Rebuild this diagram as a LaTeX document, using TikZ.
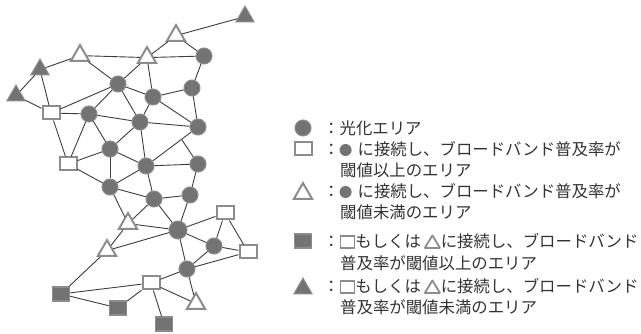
\documentclass[tikz,border=0pt]{standalone}
\usepackage{fontspec}
\setmainfont{Noto Sans CJK JP}
\usetikzlibrary{shapes.geometric}
\definecolor{nodegray}{HTML}{737373}
\definecolor{rimgray}{HTML}{8C8C8C}
\definecolor{edgegray}{HTML}{3C3C3C}
\definecolor{txtgray}{HTML}{333333}
\tikzset{
 circ/.style={circle, fill=nodegray, draw=rimgray, line width=1pt, minimum size=16pt, inner sep=0pt},
 bigcirc/.style={circ, minimum size=18pt},
 hsq/.style={rectangle, fill=white, draw=rimgray, line width=2pt, minimum width=17pt, minimum height=13pt, inner sep=0pt},
 fsq/.style={rectangle, fill=nodegray, draw=rimgray, line width=1.5pt, minimum width=17pt, minimum height=14pt, inner sep=0pt},
 htri/.style={regular polygon, regular polygon sides=3, fill=white, draw=rimgray, line width=2pt, minimum size=21pt, inner sep=0pt, yshift=-2.6pt},
 ftri/.style={regular polygon, regular polygon sides=3, fill=nodegray, draw=rimgray, line width=1pt, minimum size=21pt, inner sep=0pt, yshift=-2.6pt},
 link/.style={draw=edgegray, line width=0.9pt},
 legtext/.style={anchor=west, inner sep=0pt, text=txtgray, font=\fontsize{16.4}{19}\selectfont},
}
\newcommand{\legdot}{\tikz[baseline=-0.6ex]\fill[nodegray] (0pt,0pt) circle (6pt);}
\newcommand{\legsq}{\tikz[baseline=-0.6ex]\draw[rimgray, line width=1.8pt] (-7pt,-6pt) rectangle (7pt,6pt);}
\newcommand{\legtri}{\tikz[baseline=-0.6ex]\draw[rimgray, line width=1.8pt, line join=round] (-7.5pt,-6pt) -- (7.5pt,-6pt) -- (0pt,6.5pt) -- cycle;}
\begin{document}
\begin{tikzpicture}[x=1pt,y=-1pt]
\useasboundingbox (0,0) rectangle (641,334);
% nodes
\node[ftri] (T1) at (245,14) {};
\node[htri] (t1) at (176,33) {};
\node[htri] (t2) at (80,53) {};
\node[htri] (t3) at (147,55) {};
\node[circ] (C1) at (204,56) {};
\node[ftri] (FT2) at (40,67) {};
\node[ftri] (FT3) at (16,93) {};
\node[circ] (C2) at (118,84) {};
\node[circ] (C3) at (192,88) {};
\node[circ] (C4) at (153,97) {};
\node[hsq] (S1) at (51,113) {};
\node[circ] (C5) at (89,114) {};
\node[circ] (C6) at (140,122) {};
\node[circ] (C7) at (198,127) {};
\node[circ] (C8) at (110,149) {};
\node[hsq] (S2) at (68,164) {};
\node[circ] (C9) at (146,166) {};
\node[circ] (C10) at (198,164) {};
\coordinate (J) at (182,140);
\node[circ] (C11) at (110,187) {};
\node[circ] (C12) at (154,199) {};
\node[circ] (C13) at (190,195) {};
\node[htri] (t4) at (128,221) {};
\node[bigcirc] (C14) at (178,230) {};
\node[hsq] (S3) at (225,213) {};
\node[htri] (t5) at (107,248) {};
\node[circ] (C15) at (214,246) {};
\node[hsq] (S4) at (248,252) {};
\node[circ] (C16) at (187,269) {};
\node[hsq] (S5) at (151,283) {};
\node[fsq] (FS1) at (61,294) {};
\node[htri] (t6) at (196,301) {};
\node[fsq] (FS2) at (118,308) {};
\node[fsq] (FS3) at (164,324) {};
% links
\foreach \a/\b in {T1/t1, t1/t3, t1/C1, t2/t3, t3/C1, t2/FT2, t2/C2, t3/C2, t3/C4, C1/C3,
  FT2/FT3, FT2/S1, FT3/S1, S1/C2, S1/C5, S1/S2, C2/C5, C2/C4, C2/C6, C4/C3, C4/C7, C4/C6, C3/C7,
  C5/C6, C6/C7, C5/C8, C5/S2, C8/C6, C6/C9, C7/C9, C10/J, S2/C8, C8/C9, C9/C10, S2/C11,
  C8/C11, C9/C11, C9/C12, C10/C13, C12/C13, C11/C12, C11/t4, C12/t4, t4/C14, C12/C14, C13/C14,
  t4/t5, t5/C14, C14/S3, C14/C15, C14/C16, S3/C15, S3/S4, C15/S4, C15/C16, C16/S4, C16/S5,
  C16/t6, S5/t6, S5/FS1, S5/FS2, S5/FS3, t5/FS1, FS1/FS2}
  \draw[link] (\a) -- (\b);
% legend
\node[circ, minimum size=16pt] (lg1) at (303,128) {};
\node[hsq] (lg2) at (303,149) {};
\node[htri] (lg3) at (303,191) {};
\node[fsq] (lg4) at (303,241) {};
\node[ftri] (lg5) at (303,286) {};
\node[legtext] (r1) at (323,128) {：光化エリア};
\node[legtext] (r2) at (323,149) {：\legdot\hspace{6pt}に接続し、ブロードバンド普及率が};
\node[legtext] (r3) at (340,170) {閾値以上のエリア};
\node[legtext] (r4) at (323,191) {：\legdot\hspace{6pt}に接続し、ブロードバンド普及率が};
\node[legtext] (r5) at (340,212) {閾値未満のエリア};
\node[legtext] (r6) at (323,241) {：\legsq もしくは\hspace{3pt}\legtri に接続し、ブロードバンド};
\node[legtext] (r7) at (340,263) {普及率が閾値以上のエリア};
\node[legtext] (r8) at (323,286) {：\legsq もしくは\hspace{3pt}\legtri に接続し、ブロードバンド};
\node[legtext] (r9) at (340,307) {普及率が閾値未満のエリア};
\end{tikzpicture}
\end{document}
